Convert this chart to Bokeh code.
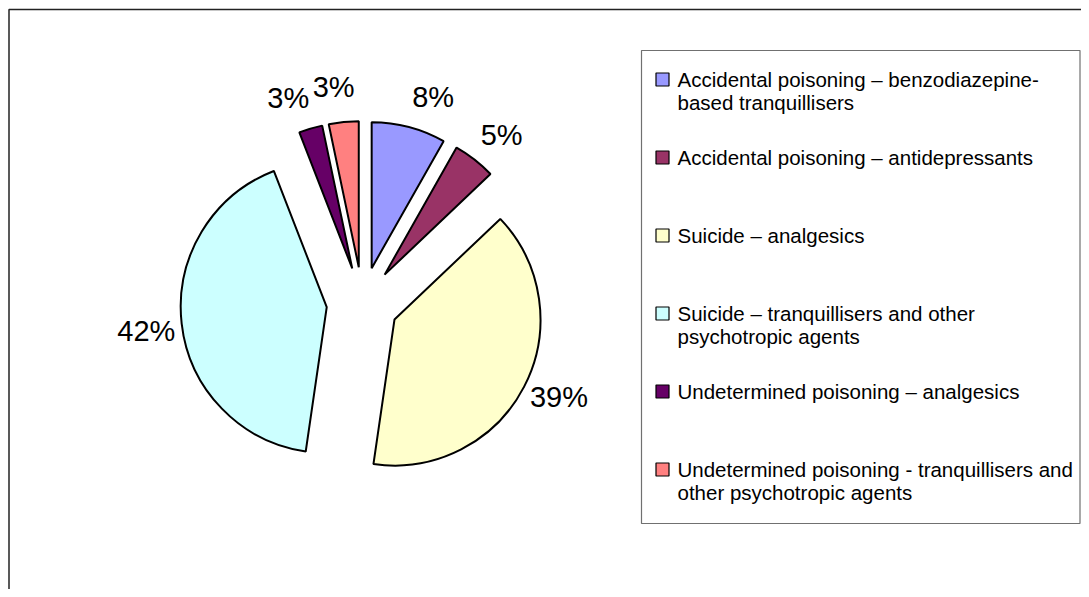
import math
from bokeh.plotting import figure
from bokeh.models import Range1d, ColumnDataSource
from bokeh.embed import file_html
from bokeh.resources import INLINE

# ---- data ----
categories = [
    "Accidental poisoning \u2013 benzodiazepine-\nbased tranquillisers",
    "Accidental poisoning \u2013 antidepressants",
    "Suicide \u2013 analgesics",
    "Suicide \u2013 tranquillisers and other\npsychotropic agents",
    "Undetermined poisoning \u2013 analgesics",
    "Undetermined poisoning - tranquillisers and\nother psychotropic agents",
]
shares = [8.2, 4.7, 39.4, 41.8, 2.6, 3.3]
colors = ["#9999FF", "#993366", "#FFFFCC", "#CCFFFF", "#660066", "#FF8080"]

# ---- layout (image pixel coordinates, y measured downwards) ----
W, H = 1081, 589
FONT = "Liberation Sans"
cx, cy = 362.0, 302.5        # pie centre
R = 146.0                    # radius
EXPLODE = 36.0               # explosion distance
LABEL_R = 182.0
label_nudge = [5, 2, -2, -1, -4, -2]   # degrees, label placement tweak

p = figure(width=W, height=H, output_backend="svg", toolbar_location=None,
           x_range=Range1d(0, W), y_range=Range1d(-H, 0),
           min_border=0)
p.axis.visible = False
p.grid.visible = False
p.outline_line_color = None
p.background_fill_color = "white"
p.border_fill_color = "white"

# chart frame (only top & left edges visible in window)
p.line(x=[8.5, 8.5, 1200], y=[-700, -9, -9], line_color="#222222", line_width=1.5)

total = sum(shares)
a = 0.0
wx, wy, sa, ea, lx, ly, lt = [], [], [], [], [], [], []
for i, v in enumerate(shares):
    a1 = a
    a2 = a + v / total * 360.0
    mid = math.radians((a1 + a2) / 2)
    ex = cx + EXPLODE * math.sin(mid)
    ey = -cy + EXPLODE * math.cos(mid)
    wx.append(ex)
    wy.append(ey)
    sa.append(math.radians(90 - a2))
    ea.append(math.radians(90 - a1))
    lm = mid + math.radians(label_nudge[i])
    lx.append(ex + LABEL_R * math.sin(lm))
    ly.append(ey + LABEL_R * math.cos(lm))
    lt.append(f"{round(v)}%")
    a = a2

src = ColumnDataSource(dict(x=wx, y=wy, sa=sa, ea=ea, c=colors))
p.wedge(x="x", y="y", radius=R, start_angle="sa", end_angle="ea",
        direction="anticlock", fill_color="c", line_color="black",
        line_width=2, source=src)

p.text(x=lx, y=ly, text=lt, text_font={"value": FONT}, text_font_size="29px",
       text_align="center", text_baseline="middle", text_color="black")

# ---- legend ----
LX0, LY0, LX1, LY1 = 641, 50, 1079.5, 523
p.quad(left=[LX0], right=[LX1], top=[-LY0], bottom=[-LY1],
       fill_color="white", line_color="#707070", line_width=1.2)

first_y = 79.0
step = 78.0
line_h = 23.0
sq_x, sq = 662.0, 13.0
tx = 677.0
sqx, sqy, tl_x, tl_y, tl_t = [], [], [], [], []
for i, cat in enumerate(categories):
    yc = first_y + i * step
    sqx.append(sq_x)
    sqy.append(-yc)
    for j, line in enumerate(cat.split("\n")):
        tl_x.append(tx)
        tl_y.append(-(yc + j * line_h))
        tl_t.append(line)

p.rect(x=sqx, y=sqy, width=sq, height=sq, fill_color=colors,
       line_color="black", line_width=1.2)
p.text(x=tl_x, y=tl_y, text=tl_t, text_font={"value": FONT},
       text_font_size="20.5px", text_align="left", text_baseline="middle",
       text_color="black")

open("out.html", "w").write(file_html(p, INLINE))
